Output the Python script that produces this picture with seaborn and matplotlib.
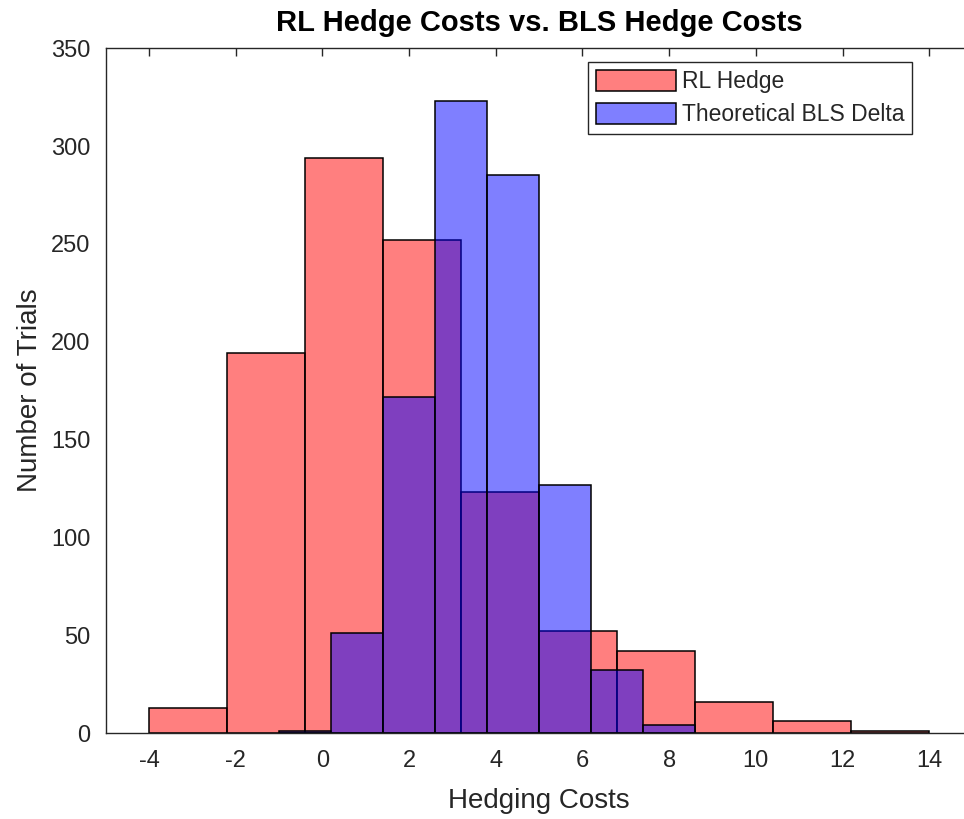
import numpy as np
import pandas as pd
import matplotlib
matplotlib.use("Agg")
import matplotlib.pyplot as plt
import seaborn as sns

# ---- data ----
rl_edges = [-4.0, -2.2, -0.4, 1.4, 3.2, 5.0, 6.8, 8.6, 10.4, 12.2, 14.0]
rl_counts = [13, 194, 294, 252, 123, 52, 42, 16, 6, 1]
bls_edges = [-1.0, 0.2, 1.4, 2.6, 3.8, 5.0, 6.2, 7.4, 8.6]
bls_counts = [1, 51, 172, 323, 285, 127, 32, 4]
x_ticks = [-4, -2, 0, 2, 4, 6, 8, 10, 12, 14]
y_ticks = [0, 50, 100, 150, 200, 250, 300, 350]

sns.set_theme(style="white")
plt.rcParams["font.family"] = ["Liberation Sans", "DejaVu Sans"]
plt.rcParams["axes.unicode_minus"] = False

rl_centers = [(a + b) / 2 for a, b in zip(rl_edges[:-1], rl_edges[1:])]
bls_centers = [(a + b) / 2 for a, b in zip(bls_edges[:-1], bls_edges[1:])]
rl_df = pd.DataFrame({"cost": rl_centers, "n": rl_counts})
bls_df = pd.DataFrame({"cost": bls_centers, "n": bls_counts})

fig = plt.figure(figsize=(9.64, 8.19), dpi=100)
W, H = 964, 819
left_px, right_px, top_px, bot_px = 105.6, 972.6, 48.3, 733.0
ax = fig.add_axes([left_px / W, 1 - bot_px / H, (right_px - left_px) / W, (bot_px - top_px) / H])

dark = "#262626"
sns.histplot(data=rl_df, x="cost", weights="n", bins=rl_edges, color="red", alpha=0.5,
             edgecolor="black", linewidth=1.1, ax=ax, label="RL Hedge")
sns.histplot(data=bls_df, x="cost", weights="n", bins=bls_edges, color="blue", alpha=0.5,
             edgecolor="black", linewidth=1.1, ax=ax, label="Theoretical BLS Delta")

ax.set_axisbelow(False)
ax.set_xlim(-5, 15)
ax.set_ylim(0, 350)
ax.set_xticks(x_ticks)
ax.set_yticks(y_ticks)
ax.tick_params(direction="in", top=True, right=True, length=5.5, width=1.0,
               colors=dark, labelsize=17)
ax.tick_params(axis="x", pad=12)
ax.tick_params(axis="y", pad=11)
for s in ax.spines.values():
    s.set_color(dark)
    s.set_linewidth(1.0)

ax.set_xlabel("Hedging Costs", fontsize=20, color=dark, labelpad=12)
ax.set_ylabel("Number of Trials", fontsize=20, color=dark, labelpad=6)
ax.set_title("RL Hedge Costs vs. BLS Hedge Costs", fontsize=21, fontweight="bold",
             color="black", pad=12.5)

leg = ax.legend(loc="upper left", bbox_to_anchor=(588 / W, 1 - 62 / H),
                bbox_transform=fig.transFigure, fontsize=16.5, frameon=True,
                fancybox=False, framealpha=1, edgecolor=dark,
                handlelength=3.5, handleheight=1.05, handletextpad=0.25,
                borderpad=0.35, labelspacing=0.4, borderaxespad=0)
leg.get_frame().set_linewidth(1.0)

fig.savefig("out.png", dpi=100)
